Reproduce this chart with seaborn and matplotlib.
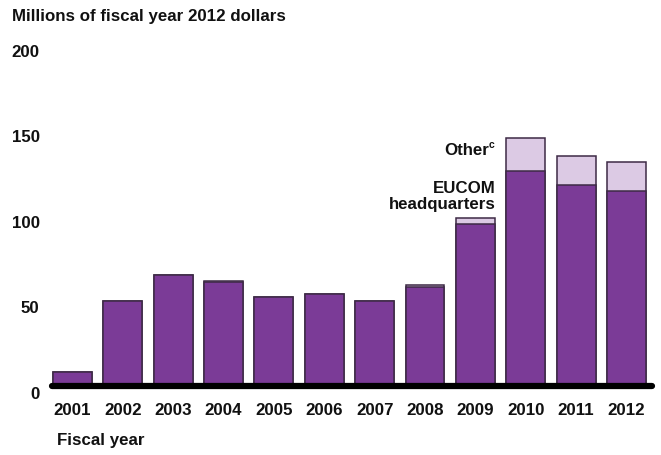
import matplotlib
matplotlib.use("Agg")
import matplotlib.pyplot as plt
import matplotlib.transforms as mtransforms
import seaborn as sns
import pandas as pd

# values (millions of FY2012 dollars)
years = ["2001", "2002", "2003", "2004", "2005", "2006",
         "2007", "2008", "2009", "2010", "2011", "2012"]
eucom_hq = [8, 50, 65, 61, 52, 54, 50, 58, 95, 126, 117.5, 114]
other = [0, 0, 0, 0.5, 0, 0, 0, 0.8, 3, 19, 17, 17]
y_ticks = [0, 50, 100, 150, 200]

dark = "#7b3b97"
light = "#dccae4"
edge = "#3d2a45"
fs = 12.2

sns.set_theme(style="white")
plt.rcParams["font.family"] = ["Liberation Sans", "DejaVu Sans"]

df = pd.DataFrame({"year": years, "eucom": eucom_hq, "other": other})
df["total"] = df["eucom"] + df["other"]

fig = plt.figure(figsize=(6.61, 4.55), dpi=100)
ax = fig.add_axes([0.079, 0.1516, 0.907, 0.7516])

# stacked look: total in light purple, EUCOM on top in dark purple
sns.barplot(data=df, x="year", y="total", color=light, saturation=1,
            edgecolor=edge, linewidth=1.1, width=0.77, ax=ax)
sns.barplot(data=df, x="year", y="eucom", color=dark, saturation=1,
            edgecolor=edge, linewidth=1.1, width=0.77, ax=ax)

ax.set_xlim(-0.4, 11.5)
ax.set_ylim(0, 200)
ax.set_yticks(y_ticks)
ax.set_xlabel("")
ax.set_ylabel("")
for s in ax.spines.values():
    s.set_visible(False)
ax.axhline(0, color="black", lw=4.5, clip_on=False, zorder=5)

ax.tick_params(axis="both", length=0, labelsize=fs, colors="#111111")
ax.tick_params(axis="x", pad=12)
ax.tick_params(axis="y", pad=9)
for lbl in ax.get_xticklabels() + ax.get_yticklabels():
    lbl.set_fontweight("bold")
offset = mtransforms.ScaledTranslation(0, -5 / 72, fig.dpi_scale_trans)
for lbl in ax.get_yticklabels():
    lbl.set_transform(lbl.get_transform() + offset)

# labels for the segments
t_other = ax.text(8.27, 138, "Other", ha="right", va="center",
                  fontsize=fs, fontweight="bold", color="#111111")
ax.annotate("c", xy=(1, 1), xycoords=t_other, xytext=(0, 2),
            textcoords="offset points", ha="left", va="top",
            fontsize=7.5, fontweight="bold", color="#111111")
ax.text(8.4, 111, "EUCOM\nheadquarters", ha="right", va="center",
        fontsize=fs, fontweight="bold", color="#111111",
        linespacing=1.1, multialignment="right")

fig.text(12 / 661, 1 - 17 / 455, "Millions of fiscal year 2012 dollars",
         ha="left", va="center", fontsize=fs, fontweight="bold",
         color="#111111")
fig.text(57 / 661, 1 - 440 / 455, "Fiscal year", ha="left", va="center",
         fontsize=fs, fontweight="bold", color="#111111")

fig.savefig("out.png", dpi=100)
